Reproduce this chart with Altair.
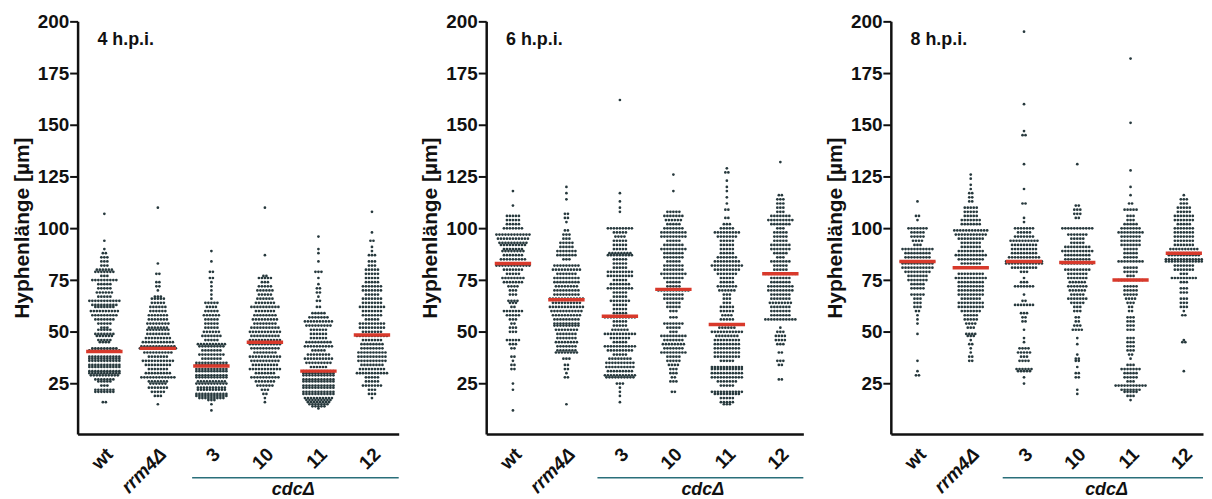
import altair as alt
import pandas as pd

CATS = ["wt", "rrm4Δ", "3", "10", "11", "12"]
PANELS = ["4 h.p.i.", "6 h.p.i.", "8 h.p.i."]
MEDIANS = [[40.5, 42, 33.5, 45, 31, 48.5], [83, 65.5, 57.5, 70.5, 53.5, 78], [84, 81, 84, 83.5, 75, 88]]

# (value, number of dots in the swarm row)
h4_wt = [(16,2),(21,7),(22,7),(24,3),(26,5),(27,7),(29,10),(30,11),(31,11),(33,11),(34,11),(36,11),(37,11),(38,11),(41,11),(42,9),(45,4),(46,5),(48,6),(49,7),(51,5),(52,3),(54,5),(56,7),(58,9),(60,10),(62,7),(63,9),(65,11),(67,5),(69,6),(71,5),(73,5),(75,9),(77,3),(79,7),(80,6),(82,3),(84,3),(86,3),(88,2),(90,1),(94,1),(107,1)]
h4_rrm = [(15,1),(19,3),(21,5),(23,7),(25,6),(26,7),(28,12),(30,9),(32,7),(34,9),(36,11),(38,7),(40,10),(42,13),(43,12),(45,11),(47,9),(49,8),(51,8),(52,7),(54,8),(56,7),(58,7),(60,6),(62,6),(64,5),(66,5),(67,3),(70,1),(72,2),(74,2),(78,2),(83,1),(110,1)]
h4_3 = [(12,1),(15,1),(17,3),(18,9),(19,11),(20,11),(22,10),(23,10),(25,11),(26,10),(28,11),(29,11),(31,11),(32,11),(34,11),(35,11),(37,7),(39,9),(41,7),(43,9),(44,10),(46,5),(48,7),(50,6),(52,5),(54,5),(56,5),(58,6),(60,5),(62,4),(64,5),(66,1),(68,1),(70,1),(72,1),(74,1),(76,2),(79,2),(84,1),(89,1)]
h4_10 = [(16,1),(18,1),(20,2),(22,3),(24,6),(26,7),(28,10),(30,7),(32,11),(34,9),(36,10),(38,11),(40,8),(42,10),(44,11),(46,11),(48,10),(50,11),(52,10),(54,8),(56,9),(58,8),(60,7),(62,10),(64,7),(66,6),(68,5),(70,6),(72,5),(74,3),(76,5),(77,2),(87,1),(110,1)]
h4_11 = [(13,1),(14,5),(15,7),(16,8),(17,9),(18,10),(20,11),(21,11),(23,11),(24,11),(26,11),(27,11),(29,11),(30,11),(31,11),(33,6),(35,9),(37,10),(39,8),(41,5),(43,10),(45,9),(47,6),(49,6),(51,6),(53,9),(55,10),(57,7),(59,5),(62,2),(65,2),(67,1),(69,2),(71,2),(73,1),(76,1),(79,3),(84,1),(88,1),(90,1),(96,1)]
h4_12 = [(18,1),(20,3),(22,3),(24,7),(26,5),(28,5),(30,11),(32,9),(34,8),(36,10),(38,10),(40,10),(42,8),(44,8),(46,7),(48,11),(50,7),(52,9),(54,9),(56,5),(58,7),(60,7),(62,9),(64,7),(66,7),(68,5),(70,7),(72,7),(74,5),(76,5),(78,5),(80,5),(82,3),(84,3),(87,3),(89,1),(91,1),(94,2),(98,1),(108,1)]

h6_wt = [(12,1),(22,1),(25,1),(32,2),(34,2),(36,1),(38,2),(42,2),(44,3),(46,5),(50,3),(52,3),(54,2),(56,3),(58,5),(60,7),(62,2),(64,3),(65,4),(68,3),(70,3),(72,4),(74,7),(76,8),(78,5),(80,7),(82,12),(83,11),(85,9),(87,7),(89,8),(90,7),(92,9),(93,10),(95,11),(97,12),(100,7),(102,5),(104,5),(106,5),(111,1),(118,1)]
h6_rrm = [(15,1),(28,2),(30,1),(32,2),(34,2),(37,3),(40,8),(41,7),(43,7),(45,8),(47,7),(49,7),(51,8),(53,9),(54,9),(56,9),(58,10),(60,11),(62,12),(64,10),(66,12),(68,9),(70,9),(72,8),(74,9),(76,9),(78,7),(80,10),(82,9),(85,3),(87,7),(89,7),(91,5),(93,5),(95,3),(97,3),(99,2),(103,1),(105,2),(107,2),(114,1),(117,1),(120,1)]
h6_3 = [(16,1),(19,1),(21,1),(23,1),(25,3),(28,10),(29,11),(31,9),(33,10),(35,10),(37,8),(39,5),(41,9),(43,11),(45,5),(47,7),(49,11),(51,6),(53,5),(55,5),(57,11),(59,5),(61,5),(63,5),(65,7),(67,5),(69,5),(71,9),(73,7),(75,5),(77,9),(79,9),(81,5),(83,5),(85,5),(87,9),(88,8),(90,5),(92,5),(94,5),(96,4),(98,5),(100,9),(108,1),(110,1),(113,1),(117,1),(162,1)]
h6_10 = [(21,2),(26,3),(28,2),(30,3),(32,3),(34,4),(36,5),(38,5),(40,9),(42,7),(44,8),(46,7),(48,9),(50,3),(52,5),(54,7),(57,3),(60,3),(62,5),(64,5),(66,7),(68,7),(70,11),(72,5),(74,5),(76,7),(78,9),(80,7),(82,7),(84,5),(86,7),(88,7),(90,9),(92,7),(94,5),(96,9),(98,9),(100,7),(102,5),(104,6),(106,7),(108,5),(118,1),(126,1)]
h6_11 = [(15,3),(16,5),(18,5),(20,9),(21,11),(24,5),(26,7),(28,11),(30,11),(32,11),(33,11),(36,5),(38,9),(40,9),(42,9),(44,9),(46,9),(48,8),(50,11),(52,6),(53.5,11),(56,5),(58,4),(60,5),(62,5),(64,3),(66,3),(68,3),(70,6),(72,7),(74,5),(76,5),(78,7),(80,9),(82,11),(84,9),(86,7),(88,5),(90,5),(92,5),(94,5),(96,7),(98,9),(100,5),(102,3),(105,2),(109,2),(112,1),(115,1),(118,1),(120,1),(123,1),(127,2),(129,1)]
h6_12 = [(27,2),(34,2),(36,3),(40,2),(44,3),(46,4),(48,4),(50,3),(52,1),(56,11),(58,7),(60,7),(62,7),(64,8),(66,7),(68,7),(70,9),(72,9),(74,7),(76,7),(78,11),(80,5),(82,5),(84,7),(86,3),(88,5),(90,7),(92,7),(94,5),(96,5),(98,5),(100,3),(102,7),(104,9),(106,7),(108,3),(110,3),(112,3),(114,3),(116,2),(132,1)]

h8_wt = [(29,2),(31,1),(36,1),(49,1),(54,1),(56,1),(58,1),(60,2),(62,3),(64,3),(66,3),(68,5),(71,5),(73,5),(75,7),(77,7),(79,9),(81,11),(83,11),(84,12),(86,9),(88,9),(90,11),(92,3),(94,4),(96,5),(98,5),(100,7),(104,1),(106,2),(113,1)]
h8_rrm = [(36,2),(38,2),(40,1),(42,1),(44,2),(46,1),(48,3),(49,4),(52,3),(54,4),(56,5),(58,5),(60,7),(62,9),(64,9),(66,7),(68,9),(70,9),(72,9),(74,9),(76,11),(78,9),(81,12),(83,7),(85,9),(87,11),(89,9),(91,7),(93,7),(95,9),(97,11),(99,12),(102,7),(104,7),(106,5),(108,5),(110,5),(113,2),(115,2),(117,2),(119,1),(121,1),(124,1),(126,1)]
h8_3 = [(25,1),(28,1),(31,5),(32,6),(36,4),(38,3),(40,5),(42,4),(45,1),(47,1),(51,1),(55,2),(57,2),(59,3),(63,7),(65,2),(68,1),(72,7),(74,3),(76,1),(79,3),(81,9),(83,13),(84,13),(86,11),(88,9),(90,9),(92,9),(94,10),(96,7),(98,5),(100,7),(103,1),(105,1),(112,2),(119,1),(131,1),(145,2),(147,1),(160,1),(195,1)]
h8_10 = [(20,1),(22,1),(28,2),(30,2),(33,1),(36,2),(37,2),(39,1),(44,1),(47,1),(51,4),(53,3),(55,2),(57,2),(60,3),(62,3),(64,5),(66,7),(68,5),(70,6),(72,7),(74,6),(76,7),(78,7),(80,9),(83,11),(85,9),(87,9),(89,11),(91,9),(93,5),(95,5),(97,7),(100,11),(105,2),(107,3),(109,3),(111,2),(131,1)]
h8_11 = [(17,1),(19,3),(21,5),(22,7),(24,11),(26,3),(28,5),(30,5),(32,7),(34,3),(37,1),(39,2),(41,3),(43,3),(45,3),(47,3),(51,3),(53,3),(55,3),(57,3),(60,2),(62,2),(64,3),(66,4),(68,5),(70,5),(72,5),(75,9),(77,3),(79,5),(81,5),(84,9),(86,5),(88,5),(90,5),(92,7),(94,7),(96,7),(98,9),(100,7),(102,5),(104,3),(106,3),(109,5),(112,2),(116,1),(120,1),(128,1),(151,1),(182,1)]
h8_12 = [(31,1),(45,2),(46,1),(58,2),(60,1),(62,3),(64,3),(66,3),(69,3),(71,3),(74,3),(76,9),(78,3),(80,7),(82,7),(84,13),(85,13),(87,11),(88,11),(90,10),(92,7),(94,7),(96,7),(98,7),(100,7),(102,5),(104,7),(106,7),(108,5),(110,5),(112,3),(114,3),(116,1)]

SERIES = [
    [h4_wt, h4_rrm, h4_3, h4_10, h4_11, h4_12],
    [h6_wt, h6_rrm, h6_3, h6_10, h6_11, h6_12],
    [h8_wt, h8_rrm, h8_3, h8_10, h8_11, h8_12],
]

DOT_GAP = 0.056  # horizontal swarm spacing, in category units
FONT = "Liberation Sans"
LABEL_EXPR = "['wt','rrm4Δ','3','10','11','12'][datum.value]"
STYLE_EXPR = "datum.value == 1 ? 'italic' : 'normal'"


def panel(p, width, x_end, line_start, line_end, cdc_x):
    rows, med = [], []
    for c, series in enumerate(SERIES[p]):
        for value, n in series:
            for k in range(n):
                rows.append({"x": c + (k - (n - 1) / 2) * DOT_GAP, "y": value})
        med.append({"x": c - 0.34, "x2": c + 0.34, "y": MEDIANS[p][c]})
    xs = alt.Scale(domain=[-0.5, x_end], nice=False, zero=False)
    ys = alt.Scale(domain=[0.65, 200], nice=False, zero=False)
    xaxis = alt.Axis(
        values=list(range(6)), labelExpr=LABEL_EXPR, labelAngle=-45, labelAlign="right",
        labelBaseline="middle", labelFont=FONT, labelFontWeight="bold", labelFontSize=19,
        labelFontStyle=alt.expr(STYLE_EXPR), labelColor="#111111", labelPadding=17, labelOffset=5,
        labelOverlap=False, labelBound=False, ticks=False, grid=False, title=None,
        domainColor="#111111", domainWidth=2.5,
    )
    yaxis = alt.Axis(
        values=[25, 50, 75, 100, 125, 150, 175, 200], labelFont=FONT, labelFontWeight="bold",
        labelFontSize=19, labelColor="#111111", labelPadding=1, tickSize=8, tickWidth=2,
        tickColor="#111111", domainColor="#111111", domainWidth=2.5, grid=False,
        title="Hyphenlänge [µm]", titleFont=FONT, titleFontWeight="bold", titleFontSize=21,
        titleColor="#111111", titlePadding=5, labelOverlap=False,
    )
    dots = alt.Chart(pd.DataFrame(rows)).mark_circle(size=7.5, color="#27393d", opacity=1).encode(
        x=alt.X("x:Q", scale=xs, axis=xaxis), y=alt.Y("y:Q", scale=ys, axis=yaxis))
    meds = alt.Chart(pd.DataFrame(med)).mark_rule(color="#d8392b", strokeWidth=3.5).encode(
        x="x:Q", x2="x2:Q", y="y:Q")
    title = alt.Chart(pd.DataFrame([{"x": -0.13, "y": 191, "t": PANELS[p]}])).mark_text(
        font=FONT, fontWeight="bold", fontSize=18, align="left", color="#111111").encode(
        x="x:Q", y="y:Q", text="t:N")
    line = alt.Chart(pd.DataFrame([{"x": line_start, "x2": line_end}])).mark_rule(
        color="#2a6f7a", strokeWidth=1.5, clip=False).encode(x="x:Q", x2="x2:Q", y=alt.value(459))
    cdc = alt.Chart(pd.DataFrame([{"x": cdc_x, "t": "cdcΔ"}])).mark_text(
        font=FONT, fontWeight="bold", fontStyle="italic", fontSize=18, color="#111111").encode(
        x="x:Q", y=alt.value(471), text="t:N")
    return (dots + meds + title + line + cdc).properties(width=width, height=415)


chart = alt.hconcat(
    panel(0, 323, 5.5, 1.64, 5.5, 3.53),
    panel(1, 319, 5.43, 1.58, 5.43, 3.55),
    panel(2, 314, 5.36, 1.6, 5.36, 3.55),
    spacing=20,
).properties(padding={"left": 3, "top": 3, "right": 0, "bottom": 0}, background="white").configure_view(stroke=None)

chart.save("out.html", embed_options={"renderer": "svg", "actions": False})
